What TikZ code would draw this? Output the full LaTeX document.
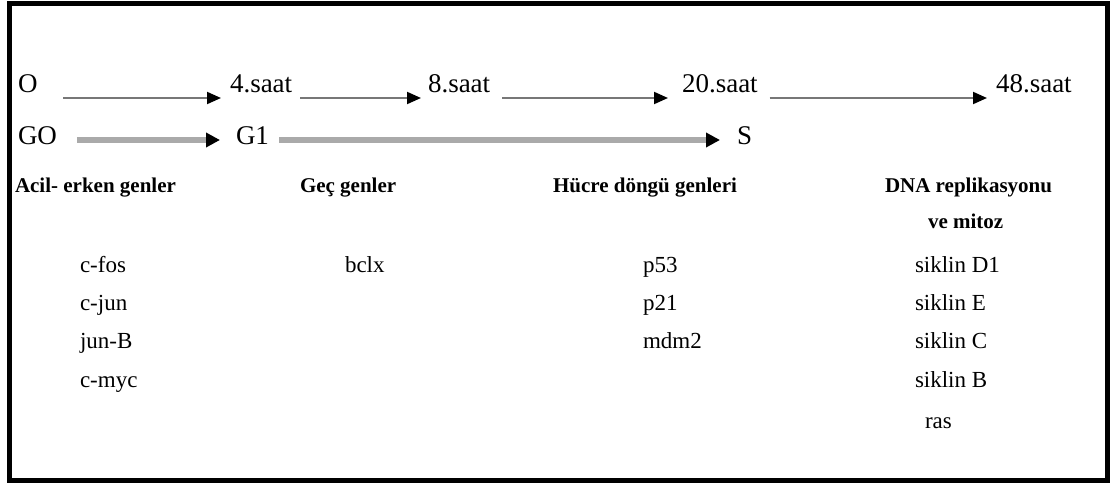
\documentclass[tikz,border=0pt]{standalone}
\usepackage{fontspec}
\setmainfont{Liberation Serif}
\usetikzlibrary{arrows.meta}
\definecolor{thinline}{HTML}{777777}
\definecolor{thickline}{HTML}{AAAAAA}
\begin{document}
\begin{tikzpicture}[x=1pt,y=-1pt,
  every node/.style={inner sep=0pt,outer sep=0pt,anchor=base west},
  big/.style={font=\fontsize{27}{27}\selectfont},
  head/.style={font=\fontsize{21}{21}\selectfont\bfseries},
  gene/.style={font=\fontsize{23}{23}\selectfont},
  thinarr/.style={draw=thinline,line width=2pt,-{Triangle[length=14pt,width=12pt,color=black]}},
  thickarr/.style={draw=thickline,line width=6pt,-{Triangle[length=14pt,width=14pt,color=black]}}
]
\useasboundingbox (0,0) rectangle (1113,484);
\draw[line width=5pt] (9.5,4) rectangle (1107,480.5);
% row 1
\node[big] (o) at (18,93) {O};
\node[big] (t4) at (230,93) {4.saat};
\node[big] (t8) at (428,93) {8.saat};
\node[big] (t20) at (682,93) {20.saat};
\node[big] (t48) at (996,93) {48.saat};
% row 2
\node[big] (g0) at (18,145) {GO};
\node[big] (g1) at (236,145) {G1};
\node[big] (s) at (737,145) {S};
% arrows row 1
\draw[thinarr] ([xshift=26pt,yshift=-5pt]o.base east) -- ([xshift=-9pt,yshift=-5pt]t4.base west);
\draw[thinarr] ([xshift=8pt,yshift=-5pt]t4.base east) -- ([xshift=-7pt,yshift=-5pt]t8.base west);
\draw[thinarr] ([xshift=12pt,yshift=-5pt]t8.base east) -- ([xshift=-14pt,yshift=-5pt]t20.base west);
\draw[thinarr] ([xshift=12pt,yshift=-5pt]t20.base east) -- ([xshift=-9pt,yshift=-5pt]t48.base west);
% arrows row 2
\draw[thickarr] ([xshift=20pt,yshift=5pt]g0.base east) -- ([xshift=-16pt,yshift=5pt]g1.base west);
\draw[thickarr] ([xshift=10pt,yshift=5pt]g1.base east) -- ([xshift=-17pt,yshift=5pt]s.base west);
% headers
\node[head] (h1) at (15,192) {Acil- erken genler};
\node[head] (h2) at (300,192) {Geç genler};
\node[head] (h3) at (553,192) {Hücre döngü genleri};
\node[head] (h4) at (885,192) {DNA replikasyonu};
\node[head] (h4b) at (928,228) {ve mitoz};
% genes
\node[gene] (cfos) at (80,272) {c-fos};
\node[gene] (cjun) at (80,310) {c-jun};
\node[gene] (junb) at (80,348) {jun-B};
\node[gene] (cmyc) at (80,387) {c-myc};
\node[gene] (bclx) at (345,272) {bclx};
\node[gene] (p53) at (643,272) {p53};
\node[gene] (p21) at (643,310) {p21};
\node[gene] (mdm2) at (643,348) {mdm2};
\node[gene] (sd1) at (915,272) {siklin D1};
\node[gene] (se) at (915,310) {siklin E};
\node[gene] (sc) at (915,348) {siklin C};
\node[gene] (sb) at (915,387) {siklin B};
\node[gene] (ras) at (925,428) {ras};
\end{tikzpicture}
\end{document}
